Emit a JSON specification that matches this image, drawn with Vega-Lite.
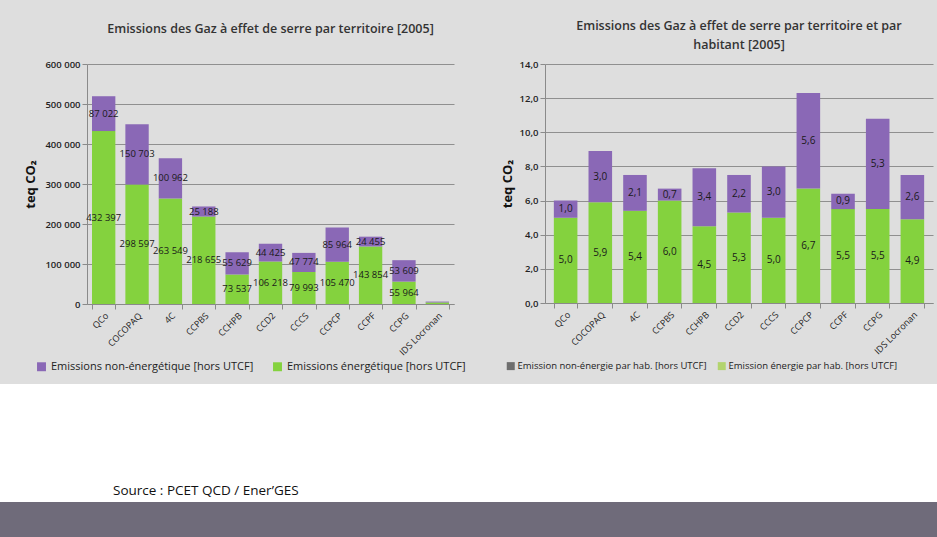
{
  "$schema": "https://vega.github.io/schema/vega-lite/v6.json",
  "background": "#dedede",
  "padding": {"top": 19, "left": 0, "right": 0, "bottom": 0},
  "spacing": 0,
  "config": {
    "locale": {"number": {"decimal": ",", "thousands": " ", "grouping": [3], "currency": ["", " €"]}},
    "font": "Open Sans",
    "view": {"stroke": null},
    "axis": {
      "labelFont": "Open Sans", "labelColor": "#222", "titleColor": "#111",
      "domainColor": "#8a8a8a", "tickColor": "#8a8a8a", "gridColor": "#8f8f8f", "gridWidth": 1
    },
    "title": {"font": "Open Sans", "fontSize": 12.5, "fontWeight": 600, "color": "#333"},
    "legend": {"labelFont": "Open Sans", "labelFontSize": 11, "labelColor": "#222", "labelLimit": 0}
  },
  "vconcat": [
    {
      "resolve": {"scale": {"color": "independent", "fill": "independent"}, "legend": {"color": "independent", "fill": "independent"}},
      "spacing": 23,
      "hconcat": [
        {
          "width": 1, "height": 1,
          "data": {"values": [{"t": ""}]},
          "mark": {"type": "text"},
          "encoding": {"text": {"field": "t", "type": "nominal"}}
        },
        {
          "width": 367, "height": 240,
          "title": {"text": "Emissions des Gaz à effet de serre par territoire [2005]", "offset": 24},
          "data": {"values": [
            {"territoire": "QCo", "type": "energie", "valeur": 432397},
            {"territoire": "QCo", "type": "non", "valeur": 87022},
            {"territoire": "COCOPAQ", "type": "energie", "valeur": 298597},
            {"territoire": "COCOPAQ", "type": "non", "valeur": 150703},
            {"territoire": "4C", "type": "energie", "valeur": 263549},
            {"territoire": "4C", "type": "non", "valeur": 100962},
            {"territoire": "CCPBS", "type": "energie", "valeur": 218655},
            {"territoire": "CCPBS", "type": "non", "valeur": 25188},
            {"territoire": "CCHPB", "type": "energie", "valeur": 73537},
            {"territoire": "CCHPB", "type": "non", "valeur": 55629},
            {"territoire": "CCD2", "type": "energie", "valeur": 106218},
            {"territoire": "CCD2", "type": "non", "valeur": 44425},
            {"territoire": "CCCS", "type": "energie", "valeur": 79993},
            {"territoire": "CCCS", "type": "non", "valeur": 47774},
            {"territoire": "CCPCP", "type": "energie", "valeur": 105470},
            {"territoire": "CCPCP", "type": "non", "valeur": 85964},
            {"territoire": "CCPF", "type": "energie", "valeur": 143854},
            {"territoire": "CCPF", "type": "non", "valeur": 24455},
            {"territoire": "CCPG", "type": "energie", "valeur": 55964},
            {"territoire": "CCPG", "type": "non", "valeur": 53609},
            {"territoire": "IDS Locronan", "type": "energie", "valeur": 3900},
            {"territoire": "IDS Locronan", "type": "non", "valeur": 2100}
          ]},
          "encoding": {
            "x": {"field": "territoire", "type": "nominal", "sort": null,
              "scale": {"paddingInner": 0.3, "paddingOuter": 0.15},
              "axis": {"title": null, "labelAngle": -45, "labelFontSize": 9, "tickBand": "extent", "tickSize": 5, "labelPadding": 2}},
            "y": {"field": "valeur", "type": "quantitative", "stack": "zero",
              "scale": {"domain": [0, 600000]},
              "axis": {"title": "teq CO₂", "titleFontSize": 13, "titleFontWeight": "bold", "titlePadding": 7,
                "values": [0, 100000, 200000, 300000, 400000, 500000, 600000], "format": ",d", "labelOverlap": false,
                "labelFontSize": 9.5, "labelFontWeight": 600, "tickSize": 5, "labelPadding": 2}},
            "order": {"field": "type", "sort": "ascending"}
          },
          "layer": [
            {
              "mark": {"type": "bar"},
              "encoding": {
                "color": {"field": "type", "type": "nominal",
                  "scale": {"domain": ["non", "energie"], "range": ["#8a68b6", "#84d23e"]},
                  "legend": {"title": null, "orient": "none", "direction": "horizontal", "legendX": -63, "legendY": 285, "padding": 12,
                    "symbolType": "square", "symbolSize": 80, "symbolStrokeWidth": 0, "columnPadding": 18, "labelOffset": 4,
                    "labelExpr": "datum.value == 'non' ? 'Emissions non-énergétique [hors UTCF]' : 'Emissions énergétique [hors UTCF]'"}}
              }
            },
            {
              "transform": [{"filter": "datum.territoire != 'IDS Locronan'"}],
              "mark": {"type": "text", "fontSize": 9.5, "color": "#1a1a1a"},
              "encoding": {
                "y": {"field": "valeur", "type": "quantitative", "stack": "zero", "bandPosition": 0.5},
                "text": {"field": "valeur", "type": "quantitative", "format": ",d"},
                "detail": {"field": "type"}
              }
            }
          ]
        },
        {
          "width": 388, "height": 239,
          "title": {"text": ["Emissions des Gaz à effet de serre par territoire et par", "habitant [2005]"], "offset": 8, "lineHeight": 19},
          "data": {"values": [
            {"territoire": "QCo", "type": "energie", "valeur": 5.0},
            {"territoire": "QCo", "type": "non", "valeur": 1.0},
            {"territoire": "COCOPAQ", "type": "energie", "valeur": 5.9},
            {"territoire": "COCOPAQ", "type": "non", "valeur": 3.0},
            {"territoire": "4C", "type": "energie", "valeur": 5.4},
            {"territoire": "4C", "type": "non", "valeur": 2.1},
            {"territoire": "CCPBS", "type": "energie", "valeur": 6.0},
            {"territoire": "CCPBS", "type": "non", "valeur": 0.7},
            {"territoire": "CCHPB", "type": "energie", "valeur": 4.5},
            {"territoire": "CCHPB", "type": "non", "valeur": 3.4},
            {"territoire": "CCD2", "type": "energie", "valeur": 5.3},
            {"territoire": "CCD2", "type": "non", "valeur": 2.2},
            {"territoire": "CCCS", "type": "energie", "valeur": 5.0},
            {"territoire": "CCCS", "type": "non", "valeur": 3.0},
            {"territoire": "CCPCP", "type": "energie", "valeur": 6.7},
            {"territoire": "CCPCP", "type": "non", "valeur": 5.6},
            {"territoire": "CCPF", "type": "energie", "valeur": 5.5},
            {"territoire": "CCPF", "type": "non", "valeur": 0.9},
            {"territoire": "CCPG", "type": "energie", "valeur": 5.5},
            {"territoire": "CCPG", "type": "non", "valeur": 5.3},
            {"territoire": "IDS Locronan", "type": "energie", "valeur": 4.9},
            {"territoire": "IDS Locronan", "type": "non", "valeur": 2.6}
          ]},
          "encoding": {
            "x": {"field": "territoire", "type": "nominal", "sort": null,
              "scale": {"paddingInner": 0.32, "paddingOuter": 0.255},
              "axis": {"title": null, "labelAngle": -45, "labelFontSize": 9, "tickBand": "extent", "tickSize": 5, "labelPadding": 2}},
            "y": {"field": "valeur", "type": "quantitative", "stack": "zero",
              "scale": {"domain": [0, 14]},
              "axis": {"title": "teq CO₂", "titleFontSize": 13, "titleFontWeight": "bold", "titlePadding": 5,
                "values": [0, 2, 4, 6, 8, 10, 12, 14], "format": ".1f", "labelOverlap": false,
                "labelFontSize": 9.5, "labelFontWeight": 600, "tickSize": 5, "labelPadding": 2}},
            "order": {"field": "type", "sort": "ascending"}
          },
          "layer": [
            {
              "mark": {"type": "bar"},
              "encoding": {
                "color": {"field": "type", "type": "nominal",
                  "scale": {"domain": ["non", "energie"], "range": ["#8a68b6", "#84d23e"]},
                  "legend": null}
              }
            },
            {
              "mark": {"type": "text", "fontSize": 10, "color": "#1a1a1a"},
              "encoding": {
                "y": {"field": "valeur", "type": "quantitative", "stack": "zero", "bandPosition": 0.5},
                "text": {"field": "valeur", "type": "quantitative", "format": ".1f"},
                "detail": {"field": "type"}
              }
            },
            {
              "data": {"values": [
                {"legende": "Emission non-énergie par hab. [hors UTCF]"},
                {"legende": "Emission énergie par hab. [hors UTCF]"}
              ]},
              "mark": {"type": "bar", "strokeWidth": 0},
              "encoding": {
                "x": {"datum": "QCo", "type": "nominal"},
                "y": {"datum": 0, "type": "quantitative"},
                "y2": {"datum": 0},
                "order": null,
                "fill": {"field": "legende", "type": "nominal",
                  "scale": {"domain": ["Emission non-énergie par hab. [hors UTCF]", "Emission énergie par hab. [hors UTCF]"], "range": ["#6e6e6e", "#b3d46e"]},
                  "legend": {"title": null, "orient": "none", "direction": "horizontal", "legendX": -39, "legendY": 297,
                    "symbolType": "square", "symbolSize": 64, "symbolStrokeWidth": 0, "columnPadding": 10, "labelOffset": 2, "labelFontSize": 9.5}}
              }
            }
          ]
        }
      ]
    },
    {
      "width": 937, "height": 118,
      "view": {"fill": "#ffffff", "stroke": null},
      "title": {"text": "Source : PCET QCD / Ener’GES", "orient": "bottom", "anchor": "start", "frame": "group", "offset": -18, "dx": 113,
        "fontSize": 13.5, "fontWeight": "normal", "color": "#111"},
      "data": {"values": [{"t": ""}]},
      "mark": {"type": "text"},
      "encoding": {"text": {"field": "t", "type": "nominal"}}
    },
    {
      "width": 937, "height": 35,
      "view": {"fill": "#6f6b7a", "stroke": null},
      "data": {"values": [{"t": ""}]},
      "mark": {"type": "text"},
      "encoding": {"text": {"field": "t", "type": "nominal"}}
    }
  ]
}
